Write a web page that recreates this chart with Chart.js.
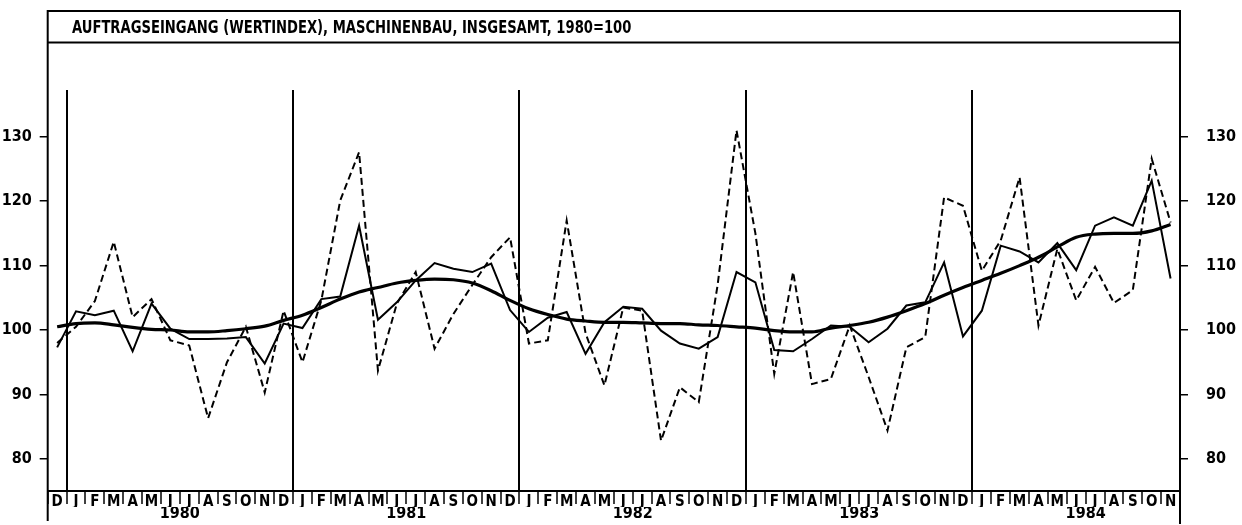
<!DOCTYPE html>
<html>
<head>
<meta charset="utf-8">
<script src="https://cdn.jsdelivr.net/npm/chart.js@4.4.1/dist/chart.umd.min.js"></script>
<style>
  html, body { margin: 0; padding: 0; background: #fff; }
  #wrap { position: relative; width: 1242px; height: 525px; }
  #title { position: absolute; left: 72px; top: 17px; font: bold 17px "Liberation Sans Narrow", "DejaVu Sans Condensed", sans-serif; color: #000; line-height: 20px; white-space: nowrap; transform: scaleX(0.86); transform-origin: 0 0; }
  canvas { position: absolute; left: 0; top: 0; }
</style>
</head>
<body>
<div id="wrap">
  <canvas id="c" width="1242" height="525"></canvas>
  <div id="title">AUFTRAGSEINGANG (WERTINDEX), MASCHINENBAU, INSGESAMT, 1980=100</div>
</div>
<script>
// Month labels: Dec 1979, Jan 1980 ... Nov 1984
const monthLabels = ['D',
  'J','F','M','A','M','J','J','A','S','O','N','D',
  'J','F','M','A','M','J','J','A','S','O','N','D',
  'J','F','M','A','M','J','J','A','S','O','N','D',
  'J','F','M','A','M','J','J','A','S','O','N','D',
  'J','F','M','A','M','J','J','A','S','O','N'];
const yearLabels = ['1980', '1981', '1982', '1983', '1984'];
const yearCenters = [6.5, 18.5, 30.5, 42.5, 54.5];   // category index positions of year captions
const yearBoundaryIdx = [1, 13, 25, 37, 49];         // first January of each year
const yTicks = [80, 90, 100, 110, 120, 130];

// Dashed series (unadjusted values)
const dashedValues = [98.0,
  100.5, 104.5, 113.7, 102.0, 104.8, 98.4, 97.6, 86.3, 95.0, 100.5, 90.3, 103.0,
  95.0, 104.6, 120.1, 127.6, 93.7, 104.1, 109.0, 97.1, 102.5, 107.0, 111.3, 114.4,
  97.9, 98.4, 117.0, 99.5, 91.4, 103.5, 103.0, 82.8, 91.1, 88.8, 107.0, 131.0,
  115.0, 93.2, 109.0, 91.6, 92.4, 100.7, 92.7, 84.4, 97.3, 98.9, 120.6, 119.3,
  109.2, 113.9, 123.7, 100.7, 112.6, 104.6, 109.8, 104.2, 106.2, 126.6, 116.7];

// Thin solid series
const solidValues = [97.3,
  102.9, 102.3, 103.0, 96.7, 104.1, 100.2, 98.6, 98.6, 98.7, 98.9, 94.8, 101.0,
  100.3, 104.8, 105.2, 116.2, 101.6, 104.3, 107.7, 110.4, 109.5, 109.0, 110.3, 103.1,
  99.7, 101.9, 102.8, 96.3, 101.2, 103.6, 103.3, 99.9, 97.9, 97.1, 98.9, 109.0,
  107.4, 96.9, 96.7, 98.6, 100.7, 100.5, 98.1, 100.2, 103.8, 104.3, 110.5, 99.0,
  103.0, 113.1, 112.2, 110.5, 113.5, 109.3, 116.2, 117.5, 116.2, 123.2, 108.0];

// Thick smooth trend
const trendValues = [100.5,
  101.0, 101.1, 100.8, 100.4, 100.1, 100.0, 99.7, 99.7, 99.9, 100.2, 100.6, 101.5,
  102.3, 103.5, 104.8, 105.9, 106.6, 107.3, 107.7, 107.9, 107.8, 107.3, 106.1, 104.6,
  103.3, 102.4, 101.7, 101.4, 101.2, 101.2, 101.1, 101.0, 101.0, 100.8, 100.7, 100.5,
  100.3, 99.9, 99.7, 99.7, 100.3, 100.7, 101.2, 102.0, 103.0, 104.1, 105.4, 106.6,
  107.7, 108.8, 110.0, 111.3, 112.9, 114.4, 114.9, 115.0, 115.0, 115.4, 116.4];

const FONT = '"Liberation Sans Narrow", "DejaVu Sans Condensed", sans-serif';

const framePlugin = {
  id: 'frame',
  afterDraw(chart) {
    const ctx = chart.ctx;
    const a = chart.chartArea;
    ctx.save();
    ctx.strokeStyle = '#000';
    ctx.lineWidth = 2;
    ctx.beginPath();
    // title box
    ctx.moveTo(a.left, 11); ctx.lineTo(a.right, 11);
    ctx.moveTo(a.left, 42.5); ctx.lineTo(a.right, 42.5);
    // outer verticals
    ctx.moveTo(a.left, 10); ctx.lineTo(a.left, 521);
    ctx.moveTo(a.right, 10); ctx.lineTo(a.right, 524);
    ctx.stroke();
    ctx.restore();
  }
};

const yAxisCommon = {
  min: 75,
  max: 137.27,
  afterBuildTicks: (axis) => { axis.ticks = yTicks.map(v => ({ value: v })); },
  grid: { drawOnChartArea: false, drawTicks: true, tickLength: 8, color: '#000', lineWidth: 1.5 },
  border: { display: false },
};

new Chart(document.getElementById('c'), {
  type: 'line',
  data: {
    labels: monthLabels,
    datasets: [
      { label: 'dashed', data: dashedValues, borderColor: '#000', borderWidth: 2, borderDash: [7, 4], pointRadius: 0, tension: 0, fill: false },
      { label: 'solid', data: solidValues, borderColor: '#000', borderWidth: 2, pointRadius: 0, tension: 0, fill: false },
      { label: 'trend', data: trendValues, borderColor: '#000', borderWidth: 3.2, pointRadius: 0, tension: 0.4, cubicInterpolationMode: 'monotone', fill: false }
    ]
  },
  options: {
    responsive: false,
    animation: false,
    devicePixelRatio: 1,
    layout: { padding: { top: 90, left: 0, right: 0, bottom: 0 } },
    plugins: { legend: { display: false }, tooltip: { enabled: false }, title: { display: false } },
    scales: {
      x: {
        type: 'category',
        position: 'bottom',
        weight: 0,
        offset: true,
        grid: {
          offset: true,
          drawOnChartArea: true,
          drawTicks: true,
          tickLength: 13,
          color: (c) => yearBoundaryIdx.includes(c.index) ? '#000' : 'rgba(0,0,0,0)',
          lineWidth: (c) => yearBoundaryIdx.includes(c.index) ? 2 : 0,
          tickColor: '#000',
          tickWidth: 1.5
        },
        border: { display: true, color: '#000', width: 2 },
        ticks: { autoSkip: false, maxRotation: 0, minRotation: 0, color: '#000', padding: -11, font: { family: FONT, size: 15, weight: 'bold' } },
        afterFit: (s) => { s.height = 16; }
      },
      x2: {
        type: 'linear',
        position: 'bottom',
        weight: 1,
        min: -0.5,
        max: 59.5,
        afterBuildTicks: (axis) => { axis.ticks = yearCenters.map(v => ({ value: v })); },
        grid: { display: false },
        border: { display: false },
        ticks: { color: '#000', padding: -11, maxRotation: 0, autoSkip: false, font: { family: FONT, size: 16, weight: 'bold' },
                 callback: (v, i) => yearLabels[i] },
        afterFit: (s) => { s.height = 18; }
      },
      y: Object.assign({}, yAxisCommon, {
        position: 'left',
        ticks: { color: '#000', padding: 8, font: { family: FONT, size: 16, weight: 'bold' } },
        afterFit: (s) => { s.width = 47.7; }
      }),
      y2: Object.assign({}, yAxisCommon, {
        position: 'right',
        ticks: { color: '#000', padding: 18, font: { family: FONT, size: 16, weight: 'bold' } },
        afterFit: (s) => { s.width = 62; }
      })
    }
  },
  plugins: [framePlugin]
});
</script>
</body>
</html>
